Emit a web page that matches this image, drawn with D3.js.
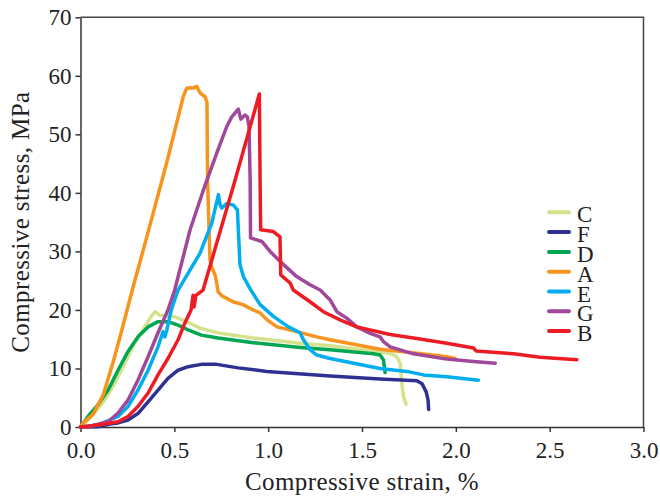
<!DOCTYPE html>
<html>
<head>
<meta charset="utf-8">
<script src="https://cdn.jsdelivr.net/npm/d3@7"></script>
<style>
  body { margin: 0; background: #fff; }
  svg { display: block; font-family: "Liberation Serif", "DejaVu Serif", serif; }
</style>
</head>
<body>
<svg width="660" height="497"></svg>
<script>
const svg = d3.select("svg"),
  width = +svg.attr("width"),
  height = +svg.attr("height");

// Data: [strain %, stress MPa]
const curveC = [[0,0],[0.058,1.8],[0.129,4.6],[0.182,7.5],[0.236,10.9],[0.289,14.3],[0.342,17.1],[0.377,18.9],[0.397,19.7],[0.422,19.1],[0.495,18.9],[0.566,18.0],[0.637,16.9],[0.744,16.0],[0.921,15.2],[1.17,14.3],[1.33,13.9],[1.65,12.6],[1.686,12.0],[1.703,10.9],[1.712,7.5],[1.721,5.2],[1.735,3.9]];
const curveF = [[0,0],[0.093,0.05],[0.157,0.5],[0.2,0.7],[0.253,1.2],[0.306,2.3],[0.36,4.3],[0.413,6.3],[0.466,8.3],[0.52,9.7],[0.573,10.3],[0.644,10.7],[0.726,10.7],[0.84,10.1],[0.993,9.5],[1.33,8.7],[1.596,8.2],[1.792,7.9],[1.82,7.4],[1.842,6.0],[1.852,4.6],[1.855,3.0]];
const curveD = [[0,0],[0.04,1.8],[0.093,3.8],[0.147,6.3],[0.2,9.7],[0.253,12.9],[0.306,15.4],[0.36,17.1],[0.413,18.0],[0.466,18.0],[0.52,17.4],[0.573,16.6],[0.644,15.7],[0.733,15.2],[0.921,14.4],[1.17,13.6],[1.33,13.2],[1.561,12.5],[1.596,12.3],[1.614,11.5],[1.623,9.3]];
const curveA = [[0,0],[0.015,0.7],[0.068,2.2],[0.122,5.6],[0.175,11.2],[0.228,17.5],[0.281,24.0],[0.335,30.3],[0.459,45.1],[0.548,56.5],[0.566,57.9],[0.584,57.95],[0.6,57.9],[0.619,58.2],[0.637,57.1],[0.664,56.4],[0.674,55.4],[0.677,42.2],[0.685,33.7],[0.69,28.5],[0.70,27.2],[0.717,26.0],[0.726,24.6],[0.733,23.1],[0.754,22.4],[0.813,21.4],[0.866,20.9],[0.92,20.0],[0.957,19.5],[0.994,18.3],[1.047,17.1],[1.152,16.3],[1.259,15.4],[1.33,14.9],[1.596,13.3],[1.772,12.7],[1.952,12.0],[1.996,11.7]];
const curveE = [[0,0],[0.093,0.34],[0.2,1.8],[0.253,3.5],[0.306,6.3],[0.36,9.7],[0.413,13.7],[0.44,16.3],[0.45,15.4],[0.46,16.6],[0.484,20.0],[0.52,23.4],[0.637,29.7],[0.699,34.8],[0.735,39.7],[0.744,37.9],[0.753,37.4],[0.779,38.2],[0.815,37.9],[0.836,37.1],[0.841,33.7],[0.85,27.7],[0.868,25.7],[0.904,23.6],[0.957,20.9],[1.028,18.9],[1.108,17.1],[1.17,16.1],[1.188,14.9],[1.223,13.2],[1.259,12.3],[1.33,11.7],[1.596,10.0],[1.739,9.5],[1.827,8.9],[1.952,8.6],[2.12,8.0]];
const curveG = [[0,0],[0.04,0.05],[0.147,0.9],[0.2,2.4],[0.253,4.6],[0.306,8.0],[0.36,12.0],[0.413,16.1],[0.466,20.0],[0.502,23.4],[0.584,33.7],[0.655,40.5],[0.726,46.8],[0.779,51.3],[0.806,53.0],[0.841,54.3],[0.854,52.6],[0.877,53.3],[0.889,53.0],[0.898,51.3],[0.904,42.2],[0.906,32.3],[0.966,31.7],[1.01,30.0],[1.063,28.3],[1.152,25.7],[1.223,24.3],[1.277,23.4],[1.33,21.7],[1.366,19.7],[1.419,18.6],[1.472,17.1],[1.543,16.0],[1.596,15.4],[1.614,14.6],[1.65,13.7],[1.774,12.5],[1.952,11.6],[2.094,11.2],[2.21,10.9]];
const curveB = [[0,0],[0.093,0.34],[0.2,0.9],[0.253,1.8],[0.306,3.5],[0.36,5.8],[0.413,8.9],[0.466,11.7],[0.52,14.9],[0.555,17.7],[0.589,20.0],[0.6,22.5],[0.605,20.5],[0.615,22.5],[0.653,23.4],[0.824,42.2],[0.953,56.9],[0.957,42.2],[0.96,33.7],[1.028,33.4],[1.063,32.5],[1.067,26.0],[1.117,24.6],[1.134,23.4],[1.223,21.4],[1.294,19.7],[1.383,18.3],[1.472,17.1],[1.65,15.8],[1.774,15.2],[1.952,14.3],[2.094,13.5],[2.108,13.0],[2.307,12.5],[2.449,11.9],[2.645,11.5]];

const names = ["C", "F", "D", "A", "E", "G", "B"];
const curves = [curveC, curveF, curveD, curveA, curveE, curveG, curveB];
const colors = ["#d5e28c", "#2e3192", "#00a651", "#f7941d", "#00aeef", "#a0489a", "#ed1c24"];

const xTicks = [0, 0.5, 1, 1.5, 2, 2.5, 3];
const yTicks = [0, 10, 20, 30, 40, 50, 60, 70];

// Scales
const mLeft = 80.5, mRight = 643.5, mTop = 17.3, mBottom = 427;

const x = d3.scaleLinear().domain([0, 3]).range([mLeft, mRight]);
const y = d3.scaleLinear().domain([0, 70]).range([mBottom, mTop]);

// Frame (top + right)
svg.append("path")
  .attr("d", `M${mLeft},${mTop}H${mRight}V${mBottom}`)
  .attr("fill", "none")
  .attr("stroke", "#444")
  .attr("stroke-width", 1.5);

// Axes
const xAxis = svg.append("g")
  .attr("transform", `translate(0,${mBottom})`)
  .call(d3.axisBottom(x).tickValues(xTicks).tickFormat(d3.format(".1f")).tickSize(5).tickPadding(10).tickSizeOuter(0));

const yAxis = svg.append("g")
  .attr("transform", `translate(${mLeft},0)`)
  .call(d3.axisLeft(y).tickValues(yTicks).tickSize(5).tickPadding(4).tickSizeOuter(0));

[xAxis, yAxis].forEach(g => {
  g.attr("font-family", "Liberation Serif").attr("font-size", 23);
  g.select(".domain").attr("stroke", "#333").attr("stroke-width", 1.5);
  g.selectAll(".tick line").attr("stroke", "#333").attr("stroke-width", 1.5);
  g.selectAll(".tick text").attr("fill", "#222");
});

// Curves
const line = d3.line()
  .x(d => x(d[0]))
  .y(d => y(d[1]));

svg.append("g")
  .selectAll("path")
  .data(curves)
  .join("path")
  .attr("d", line)
  .attr("fill", "none")
  .attr("stroke", (d, i) => colors[i])
  .attr("stroke-width", 3.5)
  .attr("stroke-linejoin", "round")
  .attr("stroke-linecap", "round");

// Legend
const legend = svg.append("g")
  .attr("transform", "translate(548,212.3)");

const rows = legend.selectAll("g")
  .data(names)
  .join("g")
  .attr("transform", (d, i) => `translate(0,${i * 19.8})`);

rows.append("line")
  .attr("x1", 1).attr("x2", 21)
  .attr("stroke", (d, i) => colors[i])
  .attr("stroke-width", 4)
  .attr("stroke-linecap", "round");

rows.append("text")
  .attr("x", 29)
  .attr("y", 10)
  .attr("fill", "#222")
  .style("font-size", "23px")
  .text(d => d);

// Axis titles
svg.append("text")
  .attr("x", (mLeft + mRight) / 2)
  .attr("y", 490)
  .attr("text-anchor", "middle")
  .attr("fill", "#222")
  .style("font-size", "25px")
  .style("letter-spacing", "0.4px")
  .text("Compressive strain, %");

svg.append("text")
  .attr("transform", `translate(29,${(mTop + mBottom) / 2}) rotate(-90)`)
  .attr("text-anchor", "middle")
  .attr("fill", "#222")
  .style("font-size", "25px")
  .style("letter-spacing", "0.4px")
  .text("Compressive stress, MPa");
</script>
</body>
</html>
